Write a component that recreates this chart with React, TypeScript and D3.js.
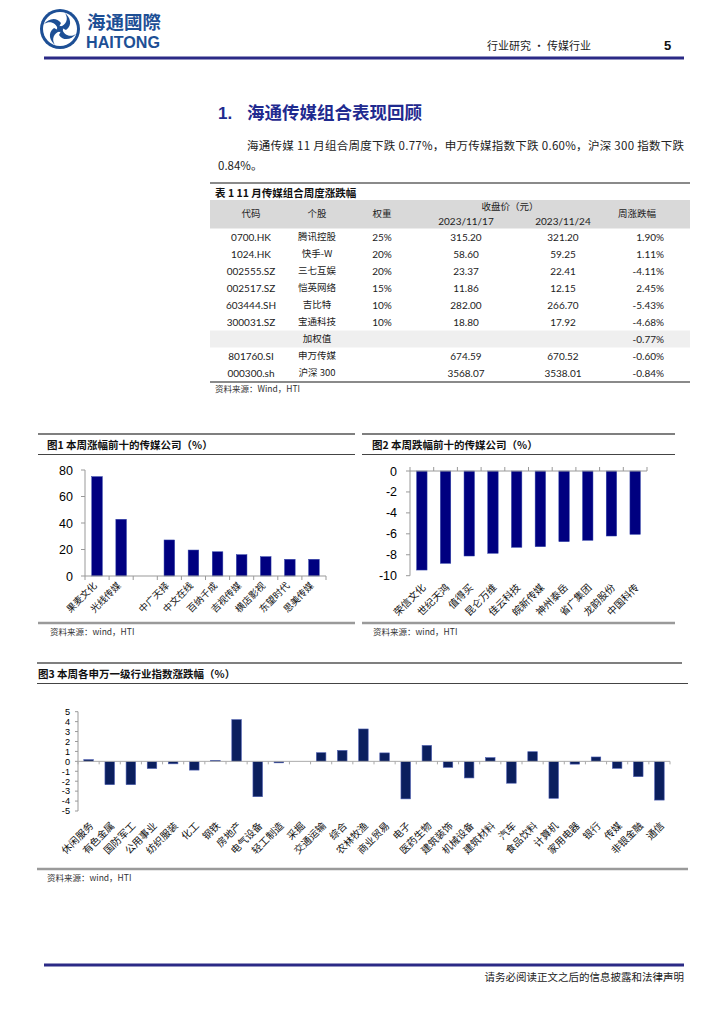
import React from "react";
import * as d3 from "d3";

// ---------- data ----------
const tableHeaders = ["代码", "个股", "权重", "收盘价（元）", "周涨跌幅"];
const tableDates = ["2023/11/17", "2023/11/24"];
const tableCodes = ["0700.HK", "1024.HK", "002555.SZ", "002517.SZ", "603444.SH", "300031.SZ", "", "801760.SI", "000300.sh"];
const tableNames = ["腾讯控股", "快手-W", "三七互娱", "恺英网络", "吉比特", "宝通科技", "加权值", "申万传媒", "沪深 300"];
const tableWeights = ["25%", "20%", "20%", "15%", "10%", "10%", "", "", ""];
const tablePrev = ["315.20", "58.60", "23.37", "11.86", "282.00", "18.80", "", "674.59", "3568.07"];
const tableLast = ["321.20", "59.25", "22.41", "12.15", "266.70", "17.92", "", "670.52", "3538.01"];
const tableChg = ["1.90%", "1.11%", "-4.11%", "2.45%", "-5.43%", "-4.68%", "-0.77%", "-0.60%", "-0.84%"];

const fig1Names = ["果麦文化", "光线传媒", "", "中广天择", "中文在线", "百纳千成", "吉视传媒", "横店影视", "东望时代", "思美传媒"];
const fig1Values: (number | null)[] = [75, 42.8, null, 27.2, 19.6, 18.3, 16.1, 14.6, 12.6, 12.6];
const fig1Ticks = [0, 20, 40, 60, 80];

const fig2Names = ["荣信文化", "世纪天鸿", "值得买", "昆仑万维", "佳云科技", "皖新传媒", "神州泰岳", "省广集团", "龙韵股份", "中国科传"];
const fig2Values = [-9.46, -8.82, -8.12, -7.86, -7.29, -7.23, -6.75, -6.62, -6.21, -6.05];
const fig2Ticks = [0, -2, -4, -6, -8, -10];

const fig3Names = ["休闲服务", "有色金属", "国防军工", "公用事业", "纺织服装", "化工", "钢铁", "房地产", "电气设备", "轻工制造", "采掘", "交通运输", "综合", "农林牧渔", "商业贸易", "电子", "医药生物", "建筑装饰", "机械设备", "建筑材料", "汽车", "食品饮料", "计算机", "家用电器", "银行", "传媒", "非银金融", "通信"];
const fig3Values = [0.17, -2.35, -2.35, -0.72, -0.25, -0.88, 0.1, 4.2, -3.56, -0.15, 0, 0.87, 1.1, 3.26, 0.85, -3.78, 1.6, -0.6, -1.67, 0.37, -2.2, 0.97, -3.72, -0.28, 0.44, -0.7, -1.54, -3.9];
const fig3Ticks = [5, 4, 3, 2, 1, 0, -1, -2, -3, -4, -5];

// ---------- styles ----------
const CJK = "'Noto Sans CJK SC', sans-serif";
const NUM = "Lato, 'Noto Sans CJK SC', sans-serif";
const ARIAL = "'Liberation Sans', Arial, sans-serif";
const NAVY = "#000080";
const NAVY3 = "#0b1f5e";
const HEADBLUE = "#2b2a86";

function FigFrame({ x1, x2, top, bottom, title, titleX, source, sourceX, underX2 }: any) {
  return (
    <g>
      <line x1={x1} x2={x2} y1={top} y2={top} stroke="#555" strokeWidth={1.3} />
      <text x={titleX} y={top + 15} fontFamily={CJK} fontWeight={700} fontSize={10.5} fill="#111">{title}</text>
      <line x1={x1} x2={underX2 ?? x2} y1={top + 20.5} y2={top + 20.5} stroke="#444" strokeWidth={1} />
      <line x1={x1} x2={underX2 ?? x2} y1={bottom} y2={bottom} stroke="#9a9a9a" strokeWidth={2.4} />
      <text x={sourceX} y={bottom + 12} fontFamily={CJK} fontSize={8.5} fill="#333">{source}</text>
    </g>
  );
}

function Fig1() {
  const x = d3.scaleBand<string>().domain(fig1Names.map((_, i) => String(i))).range([85, 326]).paddingInner(0.56).paddingOuter(0.28);
  const y = d3.scaleLinear().domain([0, 80]).range([576, 470]);
  const step = x.step();
  return (
    <g>
      <FigFrame x1={38} x2={355} top={434} bottom={623} title="图1  本周涨幅前十的传媒公司（%）" titleX={47} source="资料来源：wind，HTI" sourceX={50} />
      {fig1Values.map((v, i) =>
        v == null ? null : (
          <rect key={i} x={x(String(i))} y={y(v)} width={x.bandwidth()} height={y(0) - y(v)} fill={NAVY} stroke="#3344aa" strokeWidth={0.5} />
        )
      )}
      <line x1={85} x2={85} y1={y(80)} y2={y(0)} stroke="#999" />
      {fig1Ticks.map((t) => (
        <g key={t}>
          <line x1={81} x2={85} y1={y(t)} y2={y(t)} stroke="#999" />
          <text x={73} y={y(t)} dy="0.36em" textAnchor="end" fontFamily={ARIAL} fontSize={12.5} fill="#000">{t}</text>
        </g>
      ))}
      <line x1={85} x2={326} y1={y(0)} y2={y(0)} stroke="#999" />
      {d3.range(fig1Names.length + 1).map((i) => (
        <line key={i} x1={85 + i * step} x2={85 + i * step} y1={y(0)} y2={y(0) + 4} stroke="#999" />
      ))}
      {fig1Names.map((n, i) => {
        const cx = (x(String(i)) as number) + x.bandwidth() / 2;
        return (
          <text key={i} transform={`translate(${cx - 2},${y(0) + 8}) rotate(-45)`} textAnchor="end" dy="0.35em" fontFamily={CJK} fontSize={9.5} fill="#111">{n}</text>
        );
      })}
    </g>
  );
}

function Fig2() {
  const x = d3.scaleBand<string>().domain(fig2Names).range([410, 647]).paddingInner(0.56).paddingOuter(0.28);
  const y = d3.scaleLinear().domain([0, -10]).range([471, 575.7]);
  const step = x.step();
  return (
    <g>
      <FigFrame x1={362} x2={675} top={434} bottom={623} title="图2  本周跌幅前十的传媒公司（%）" titleX={372} source="资料来源：wind，HTI" sourceX={373} />
      {fig2Values.map((v, i) => (
        <rect key={i} x={x(fig2Names[i])} y={y(0)} width={x.bandwidth()} height={y(v) - y(0)} fill={NAVY} stroke="#3344aa" strokeWidth={0.5} />
      ))}
      <line x1={410} x2={410} y1={y(0)} y2={y(-10)} stroke="#999" />
      {fig2Ticks.map((t) => (
        <g key={t}>
          <line x1={406} x2={410} y1={y(t)} y2={y(t)} stroke="#999" />
          <text x={397} y={y(t)} dy="0.36em" textAnchor="end" fontFamily={ARIAL} fontSize={12.5} fill="#000">{t}</text>
        </g>
      ))}
      <line x1={410} x2={647} y1={y(0)} y2={y(0)} stroke="#999" />
      {d3.range(fig2Names.length + 1).map((i) => (
        <line key={i} x1={410 + i * step} x2={410 + i * step} y1={y(0) - 4} y2={y(0)} stroke="#999" />
      ))}
      {fig2Names.map((n, i) => {
        const cx = (x(n) as number) + x.bandwidth() / 2;
        return (
          <text key={i} transform={`translate(${cx + 2},${y(-10) + 10}) rotate(-45)`} textAnchor="end" dy="0.35em" fontFamily={CJK} fontSize={10} fill="#111">{n}</text>
        );
      })}
    </g>
  );
}

function Fig3() {
  const x = d3.scaleBand<string>().domain(fig3Names).range([78, 670]).paddingInner(0.55).paddingOuter(0.275);
  const y = d3.scaleLinear().domain([5, -5]).range([711.7, 811]);
  const step = x.step();
  return (
    <g>
      <FigFrame x1={37} x2={682} underX2={688} top={663} bottom={869} title="图3  本周各申万一级行业指数涨跌幅（%）" titleX={38} source="资料来源：wind，HTI" sourceX={47} />
      {fig3Values.map((v, i) =>
        v === 0 ? null : (
          <rect key={i} x={x(fig3Names[i])} y={y(Math.max(v, 0))} width={x.bandwidth()} height={Math.abs(y(v) - y(0))} fill={NAVY3} stroke="#4a5cb0" strokeWidth={0.6} />
        )
      )}
      <line x1={78} x2={78} y1={y(5)} y2={y(-5)} stroke="#999" />
      {fig3Ticks.map((t) => (
        <g key={t}>
          <line x1={75} x2={78} y1={y(t)} y2={y(t)} stroke="#999" />
          <text x={70} y={y(t)} dy="0.36em" textAnchor="end" fontFamily={ARIAL} fontSize={9.2} fill="#000">{t}</text>
        </g>
      ))}
      <line x1={78} x2={670} y1={y(0)} y2={y(0)} stroke="#aaa" />
      {d3.range(fig3Names.length + 1).map((i) => (
        <line key={i} x1={78 + i * step} x2={78 + i * step} y1={y(0)} y2={y(0) + 3} stroke="#aaa" />
      ))}
      {fig3Names.map((n, i) => {
        const cx = (x(n) as number) + x.bandwidth() / 2;
        return (
          <text key={i} transform={`translate(${cx + 3},${y(-5) + 13}) rotate(-45)`} textAnchor="end" dy="0.35em" fontFamily={CJK} fontSize={10} fill="#111">{n}</text>
        );
      })}
    </g>
  );
}

function Table() {
  const left = 210, right = 690;
  const rowTop = 228.5, rowH = 17;
  const cCode = 251, cName = 317, cWeight = 382, cPrev = 466, cLast = 563, rChg = 664;
  return (
    <g>
      <line x1={left} x2={right} y1={183} y2={183} stroke="#8a8a8a" strokeWidth={2} />
      <text x={215} y={197} fontFamily={CJK} fontWeight={700} fontSize={10.5} fill="#111">表 1 11 月传媒组合周度涨跌幅</text>
      <rect x={left} y={200} width={right - left} height={rowTop - 200} fill="#d9d9d9" />
      <rect x={left} y={rowTop + 6 * rowH} width={right - left} height={rowH} fill="#efefef" />
      <g fontFamily={CJK} fontSize={9.5} fill="#222" textAnchor="middle">
        <text x={cCode} y={214} dy="0.35em">{tableHeaders[0]}</text>
        <text x={cName} y={214} dy="0.35em">{tableHeaders[1]}</text>
        <text x={cWeight} y={214} dy="0.35em">{tableHeaders[2]}</text>
        <text x={510} y={207} dy="0.35em">{tableHeaders[3]}</text>
        <text x={637} y={214} dy="0.35em">{tableHeaders[4]}</text>
      </g>
      <g fontFamily={NUM} fontSize={10} fill="#222" textAnchor="middle">
        <text x={cPrev} y={221} dy="0.35em">{tableDates[0]}</text>
        <text x={cLast} y={221} dy="0.35em">{tableDates[1]}</text>
      </g>
      {tableCodes.map((c, i) => {
        const cy = rowTop + rowH * i + rowH / 2;
        return (
          <g key={i} fontSize={10} fill="#222">
            <text x={cCode} y={cy} dy="0.35em" textAnchor="middle" fontFamily={NUM}>{c}</text>
            <text x={cName} y={cy} dy="0.35em" textAnchor="middle" fontFamily={CJK} fontSize={9.5}>{tableNames[i]}</text>
            <text x={cWeight} y={cy} dy="0.35em" textAnchor="middle" fontFamily={NUM}>{tableWeights[i]}</text>
            <text x={cPrev} y={cy} dy="0.35em" textAnchor="middle" fontFamily={NUM}>{tablePrev[i]}</text>
            <text x={cLast} y={cy} dy="0.35em" textAnchor="middle" fontFamily={NUM}>{tableLast[i]}</text>
            <text x={rChg} y={cy} dy="0.35em" textAnchor="end" fontFamily={NUM}>{tableChg[i]}</text>
          </g>
        );
      })}
      <line x1={left} x2={right} y1={382} y2={382} stroke="#8a8a8a" strokeWidth={2} />
      <text x={215} y={392} fontFamily={CJK} fontSize={8.5} fill="#333">资料来源：Wind，HTI</text>
    </g>
  );
}

function Logo() {
  const cx = 60, cy = 29, r = 20;
  const arms = [0, 90, 180, 270];
  return (
    <g>
      <circle cx={cx} cy={cy} r={r} fill="#1d4f95" />
      <circle cx={cx} cy={cy} r={r - 3} fill="#fff" />
      {arms.map((a) => (
        <path key={a} transform={`translate(${cx},${cy}) rotate(${a})`} d="M0,-2 C6,-4 9,-10 5,-16 C10,-12 13,-4 6,1 Z" fill="#1d4f95" />
      ))}
      <circle cx={cx} cy={cy} r={3} fill="#1d4f95" />
      <text x={87} y={29} fontFamily={CJK} fontWeight={700} fontSize={18.5} fill="#1d4f95">海通國際</text>
      <text x={86} y={48} fontFamily={ARIAL} fontWeight={700} fontSize={17} fill="#1d4f95" textLength={74} lengthAdjust="spacingAndGlyphs">HAITONG</text>
    </g>
  );
}

export default function App() {
  return (
    <svg width={724} height={1024} viewBox="0 0 724 1024" style={{ position: "absolute", left: 0, top: 0, background: "#fff" }}>
      <rect width={724} height={1024} fill="#fff" />
      <Logo />
      <text x={487} y={50} fontFamily={CJK} fontSize={11} fill="#222">行业研究 • 传媒行业</text>
      <text x={664} y={50} fontFamily={ARIAL} fontWeight={700} fontSize={13} fill="#111">5</text>
      <line x1={44} x2={684} y1={58} y2={58} stroke={HEADBLUE} strokeWidth={3} />

      <text x={218} y={119} fontFamily={ARIAL} fontWeight={700} fontSize={17} fill="#1f2a8f">1.</text>
      <text x={247} y={119} fontFamily={CJK} fontWeight={700} fontSize={17.5} fill="#1f2a8f">海通传媒组合表现回顾</text>
      <text x={247} y={150} fontFamily={CJK} fontSize={11.5} fill="#222" textLength={437} lengthAdjust="spacing">海通传媒 11 月组合周度下跌 0.77%，申万传媒指数下跌 0.60%，沪深 300 指数下跌</text>
      <text x={218} y={170} fontFamily={CJK} fontSize={11.5} fill="#222">0.84%。</text>

      <Table />
      <Fig1 />
      <Fig2 />
      <Fig3 />

      <line x1={44} x2={684} y1={965} y2={965} stroke={HEADBLUE} strokeWidth={3} />
      <text x={684} y={981} textAnchor="end" fontFamily={CJK} fontSize={10.5} fill="#222">请务必阅读正文之后的信息披露和法律声明</text>
    </svg>
  );
}
